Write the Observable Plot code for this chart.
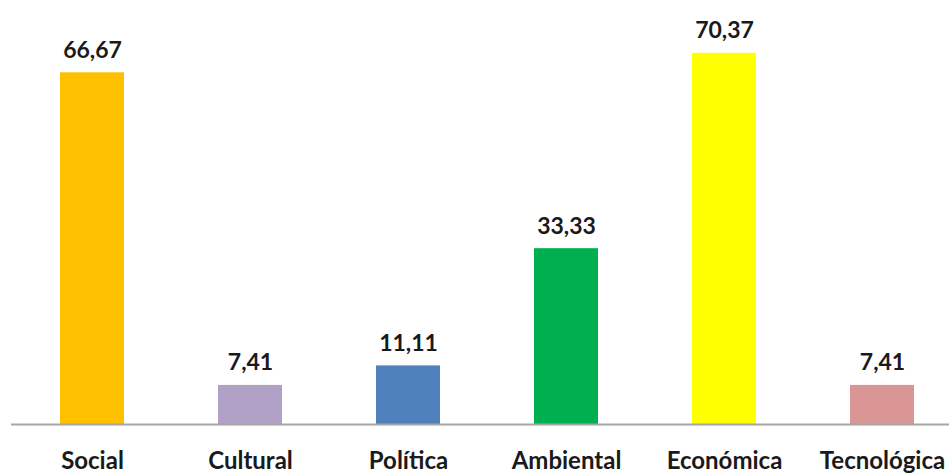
<!DOCTYPE html>
<html>
<head>
<meta charset="utf-8">
<script src="https://cdn.jsdelivr.net/npm/d3@7"></script>
<script src="https://cdn.jsdelivr.net/npm/@observablehq/plot@0.6"></script>
<style>
  html, body { margin: 0; padding: 0; background: #fff; }
  svg { display: block; }
</style>
</head>
<body>
<div id="chart"></div>
<script>
const categories = ["Social", "Cultural", "Política", "Ambiental", "Económica", "Tecnológica"];
const values = [66.67, 7.41, 11.11, 33.33, 70.37, 7.41];
const colors = ["#FFC000", "#B2A1C7", "#4F81BD", "#00B050", "#FFFF00", "#D99694"];
const valueLabels = ["66,67", "7,41", "11,11", "33,33", "70,37", "7,41"];

const data = categories.map((c, i) => ({ category: c, value: values[i], color: colors[i], label: valueLabels[i] }));

const chart = Plot.plot({
  width: 949,
  height: 473,
  marginLeft: 11,
  marginRight: 0,
  marginTop: 0,
  marginBottom: 49,
  style: { fontFamily: "Lato, 'Open Sans', sans-serif", background: "#fff" },
  x: { domain: categories, range: [12, 961], paddingInner: 0.595, paddingOuter: 0.2975, label: null },
  y: { domain: [0, 80], range: [424, 2], axis: null },
  marks: [
    Plot.barY(data, { x: "category", y: "value", fill: "color" }),
    Plot.ruleY([0], { stroke: "#A6A6A6", strokeWidth: 2 }),
    Plot.text(data, { x: "category", y: "value", text: "label", lineAnchor: "bottom", dy: -15, fontSize: 23, fontWeight: "bold", fill: "#1a1a1a" }),
    Plot.axisX({ tickSize: 0, tickPadding: 27, fontSize: 24, fontWeight: "bold", color: "#1a1a1a", label: null })
  ]
});
document.getElementById("chart").appendChild(chart);
</script>
</body>
</html>
